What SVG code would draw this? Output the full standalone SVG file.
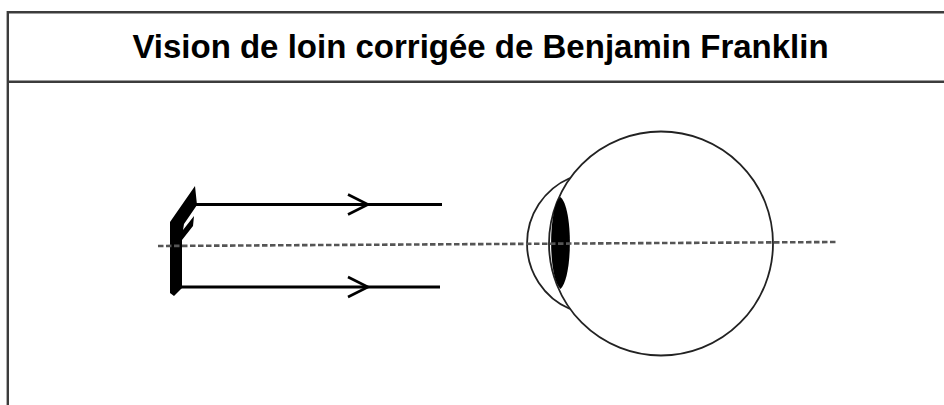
<svg xmlns="http://www.w3.org/2000/svg" width="944" height="405" viewBox="0 0 944 405">
  <style>
    .frame { fill: none; stroke: #3c3c3c; stroke-width: 2.4; }
    .title { font-family: "Liberation Sans", Arial, sans-serif; font-weight: bold; font-size: 33px; fill: #000; }
    .ray { fill: none; stroke: #000; stroke-width: 3; }
    .axis { fill: none; stroke: #555; stroke-width: 2.6; stroke-dasharray: 5.5 2.5; }
    .outline { fill: none; stroke: #222; stroke-width: 1.8; }
    .solid { fill: #000; stroke: none; }
  </style>
  <defs>
    <marker id="chevron" markerUnits="userSpaceOnUse" markerWidth="24" markerHeight="24" viewBox="-22 -12 24 24" refX="0" refY="0" orient="auto" overflow="visible">
      <path d="M-20,-10 L0,0 L-20,10" fill="none" stroke="#000" stroke-width="2.6"/>
    </marker>
  </defs>

  <rect width="944" height="405" fill="#fff"/>

  <!-- table frame: left edge, top edge and header divider -->
  <g id="frame">
    <path class="frame" d="M7.8,405 V12.2 H944"/>
    <path class="frame" d="M7.8,81.8 H944"/>
  </g>

  <g id="title">
    <text class="title" x="480.5" y="57.7" text-anchor="middle">Vision de loin corrigée de Benjamin Franklin</text>
  </g>

  <!-- split lens seen edge-on -->
  <g id="mirror">
    <polygon class="solid" points="195,186 197,205 184,224 183,230 194,216 193,226 182,240 182,288 174,296 170,293 170,222"/>
  </g>

  <!-- eye: globe, cornea and crystalline lens -->
  <g id="eye">
    <circle class="outline" cx="661" cy="243.5" r="112"/>
    <path class="outline" d="M570,178 A71.4,71.4 0 0 0 570,309"/>
    <path class="solid" d="M560.5,197 C573,208 573,277 560.5,289 C548,277 548,208 560.5,197 Z"/>
  </g>

  <g id="connectors">
    <path class="axis" d="M158,246 L836,242"/>
    <path class="ray" d="M194,204.5 L368,204.5 L442,204.5" marker-mid="url(#chevron)"/>
    <path class="ray" d="M180,287 L368,287 L440,287" marker-mid="url(#chevron)"/>
  </g>
</svg>
